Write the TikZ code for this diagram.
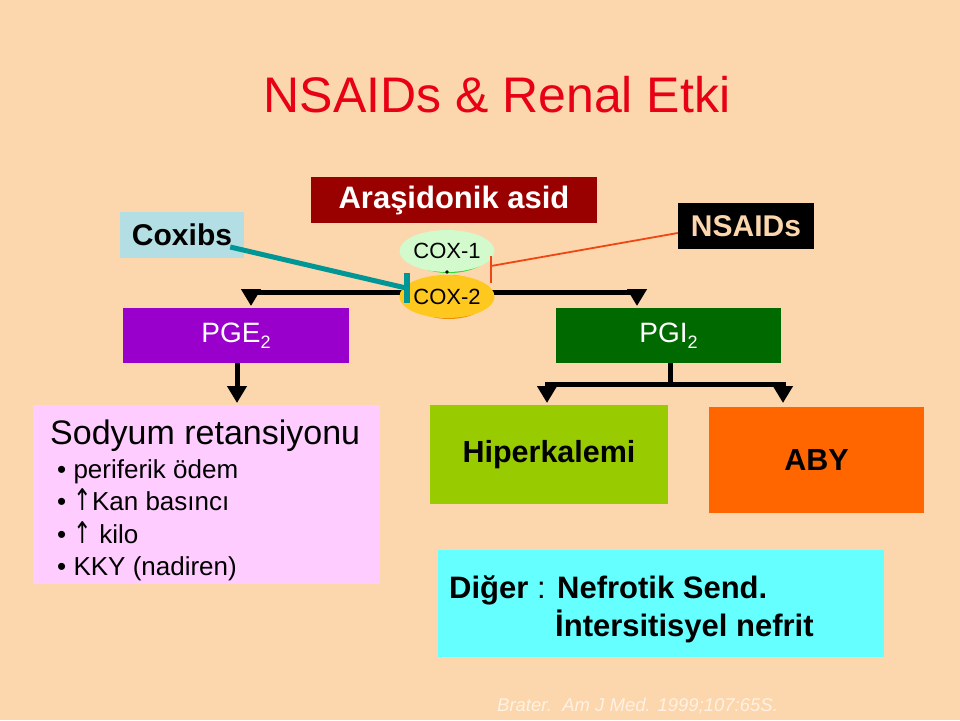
\documentclass[tikz,border=0pt]{standalone}
\usepackage{fontspec}
\setmainfont{Liberation Sans}
\newfontfamily\arrowfont{DejaVu Sans}
\usetikzlibrary{arrows.meta,shapes.geometric,calc}
\definecolor{bgc}{RGB}{252,214,172}
\definecolor{titlec}{RGB}{232,0,20}
\definecolor{coxibc}{RGB}{178,222,228}
\definecolor{arac}{RGB}{153,0,0}
\definecolor{coxonec}{RGB}{210,250,205}
\definecolor{coxoneedge}{RGB}{40,220,40}
\definecolor{coxtwoc}{RGB}{255,200,30}
\definecolor{coxtwoedge}{RGB}{240,140,0}
\definecolor{pgec}{RGB}{153,0,204}
\definecolor{pgic}{RGB}{0,106,0}
\definecolor{sodc}{RGB}{255,204,255}
\definecolor{hipc}{RGB}{153,204,0}
\definecolor{abyc}{RGB}{255,102,0}
\definecolor{digc}{RGB}{102,255,255}
\definecolor{tealc}{RGB}{0,150,150}
\definecolor{redlc}{RGB}{240,70,20}
\definecolor{citec}{RGB}{255,242,228}
\newcommand\fsz[1]{\fontsize{#1}{#1}\selectfont}
\newcommand\uparr{{\arrowfont\scalebox{0.85}[1.15]{↑}}}
\begin{document}
\begin{tikzpicture}[x=1pt,y=-1pt,
  box/.style={rectangle, inner sep=0pt, draw=none},
  txt/.style={inner sep=0pt, anchor=base west},
  blk/.style={line width=5pt, draw=black},
  tipdown/.style={-{Triangle[width=19pt,length=17pt]}},
]
\fill[bgc] (0,0) rectangle (960,720);
\useasboundingbox (0,0) rectangle (960,720);

% title
\node[inner sep=0pt, anchor=base, text=titlec, font=\fsz{50}] (title) at (497,112) {NSAIDs \& Renal Etki};

% black T connector behind COX-2
\coordinate (tj) at (447,292);
\coordinate (pgeIn) at (251,306);
\coordinate (pgiIn) at (637,306);
\draw[blk, tipdown] (tj) -| (pgeIn);
\draw[blk, tipdown] (tj) -| (pgiIn);

% top boxes
\node[box, fill=coxibc, minimum width=124pt, minimum height=46pt, font=\bfseries\fsz{30}] (coxibs) at (182,235) {Coxibs};
\node[box, fill=arac, minimum width=286pt, minimum height=46pt, text=white, font=\bfseries\fsz{31}] (ara) at (454,200) {Araşidonik asid};
\node[box, fill=black, minimum width=136pt, minimum height=46pt, text=bgc, font=\bfseries\fsz{30}] (nsaid) at (746,226) {NSAIDs};

% COX ellipses
\fill[coxoneedge] (449,252) ellipse [x radius=41pt, y radius=21pt];
\node[ellipse, fill=coxonec, minimum width=82pt, minimum height=42pt, inner sep=0pt, font=\fsz{22}] (cox1) at (447,251) {COX-1};
\fill[black] (447,272) circle (1.8pt);
\fill[coxtwoedge] (449,297) ellipse [x radius=40pt, y radius=22pt];
\node[ellipse, fill=coxtwoc, minimum width=80pt, minimum height=43pt, inner sep=0pt, font=\fsz{22}] (cox2) at (447,296.5) {COX-2};

% inhibitor lines
\coordinate (cxEnd) at (406,288);
\coordinate (cxBarTop) at (407,273);
\coordinate (cxBarBot) at (407,303);
\draw[tealc, line width=5pt] ($(coxibs.east)+(-14,12)$) -- (cxEnd);
\draw[tealc, line width=6pt] (cxBarTop) -- (cxBarBot);
\coordinate (nsEnd) at (491,266);
\coordinate (nsBarTop) at (491,256);
\coordinate (nsBarBot) at (491,283);
\draw[redlc, line width=1.8pt] ($(nsaid.west)+(0,7)$) -- (nsEnd);
\draw[redlc, line width=1.8pt] (nsBarTop) -- (nsBarBot);

% PGE2 / PGI2
\node[box, fill=pgec, minimum width=226pt, minimum height=55pt, text=white, font=\fsz{28}] (pge) at (236,335.5) {PGE\raisebox{-6pt}{\fsz{18}2}};
\node[box, fill=pgic, minimum width=225pt, minimum height=55pt, text=white, font=\fsz{28}] (pgi) at (668.5,335.5) {PGI\raisebox{-6pt}{\fsz{18}2}};

% lower boxes
\node[box, fill=sodc, minimum width=347pt, minimum height=179pt] (sod) at (206.5,494.5) {};
\node[box, fill=hipc, minimum width=238pt, minimum height=99pt, font=\bfseries\fsz{30.5}] (hip) at (549,454.5) {Hiperkalemi};
\node[box, fill=abyc, minimum width=215pt, minimum height=106pt, font=\bfseries\fsz{30.5}] (aby) at (816.5,460) {ABY};
\node[box, fill=digc, minimum width=446pt, minimum height=107pt] (dig) at (661,603.5) {};

% PGE2 arrow
\draw[blk, tipdown] (pge.south -| 237,0) -- (237,403);

% PGI2 split
\coordinate (bj) at (670,384);
\coordinate (hipIn) at (547,403);
\coordinate (abyIn) at (783,403);
\draw[blk] (pgi.south -| bj) -- (bj);
\draw[blk, tipdown] (bj) -| (hipIn);
\draw[blk, tipdown] (bj) -| (abyIn);

% sodyum text
\node[txt, font=\fsz{34}] (sodt) at (50,444) {Sodyum retansiyonu};
\node[txt, font=\fsz{26}] (b1) at (57,478) {• periferik ödem};
\node[txt, font=\fsz{26}] (b2) at (57,510) {• \uparr Kan basıncı};
\node[txt, font=\fsz{26}] (b3) at (57,543) {• \uparr\ kilo};
\node[txt, font=\fsz{26}] (b4) at (57,575) {• KKY (nadiren)};

% diğer text
\node[txt, font=\bfseries\fsz{31}] (dig1) at (449,598) {Diğer {\mdseries :} Nefrotik Send.};
\node[txt, font=\bfseries\fsz{31}] (dig2) at (555,636) {İntersitisyel nefrit};

% citation
\node[txt, font=\itshape\fsz{18.5}, text=citec] (cite) at (497,711) {Brater.\ \ Am J Med. 1999;107:65S.};
\end{tikzpicture}
\end{document}
